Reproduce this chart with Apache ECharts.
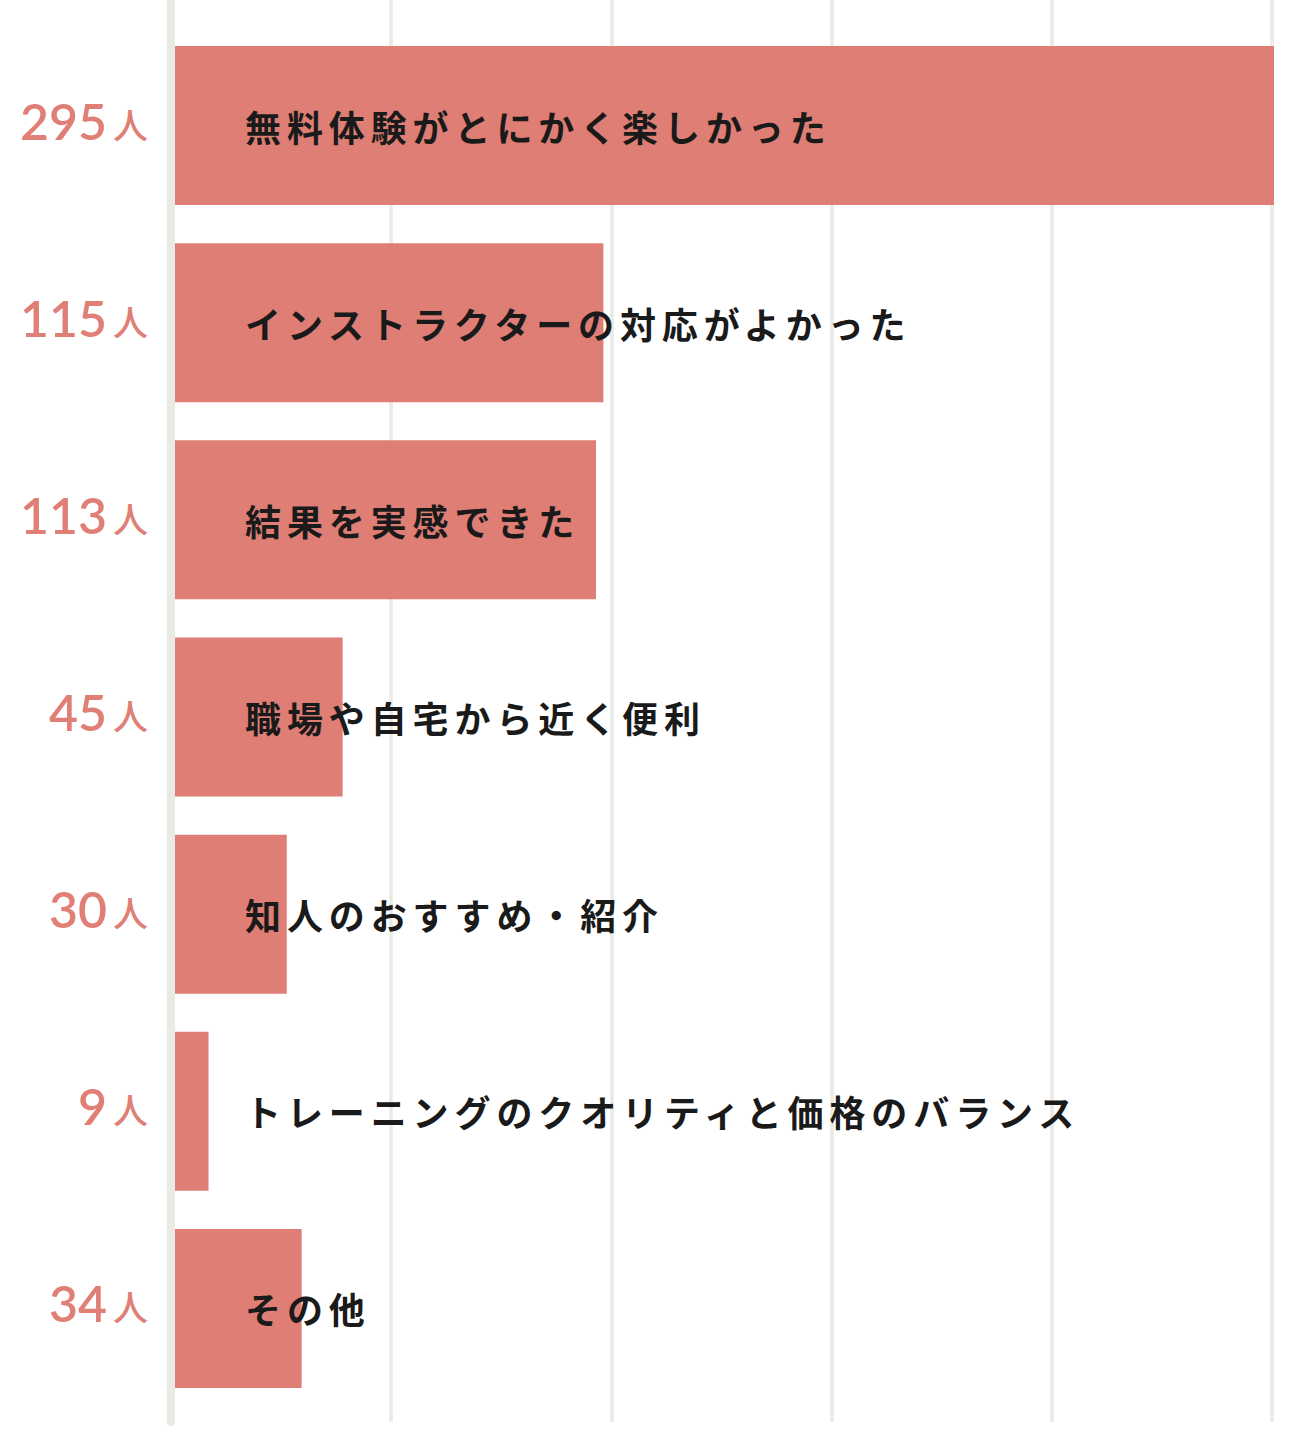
<!DOCTYPE html>
<html>
<head>
<meta charset="utf-8">
<script src="https://cdn.jsdelivr.net/npm/echarts@6/dist/echarts.min.js"></script>
<style>
html,body{margin:0;padding:0;background:#fff;}
#chart{width:1308px;height:1436px;}
#chart text[fill="#1a1a1a"]{letter-spacing:5.9px;}
</style>
</head>
<body>
<div id="chart"></div>
<script>
const categories = [
  '無料体験がとにかく楽しかった',
  'インストラクターの対応がよかった',
  '結果を実感できた',
  '職場や自宅から近く便利',
  '知人のおすすめ・紹介',
  'トレーニングのクオリティと価格のバランス',
  'その他'
];
const values = [295, 115, 113, 45, 30, 9, 34];
const unitLabel = '人';
const gridTicks = [0, 1, 2, 3, 4, 5];

const barColor = '#df7e75';
const lineColor = '#e9eae3';

const chart = echarts.init(document.getElementById('chart'), null, {renderer: 'svg'});
chart.setOption({
  animation: false,
  backgroundColor: '#fff',
  grid: [
    {left: 171, right: 36, top: 0, height: 1422},
    {left: 175, right: 34, top: 27, height: 1380}
  ],
  xAxis: [
    {
      gridIndex: 0, type: 'value', min: gridTicks[0], max: gridTicks[gridTicks.length - 1], interval: 1,
      axisLine: {show: false}, axisTick: {show: false}, axisLabel: {show: false},
      splitLine: {show: true, lineStyle: {color: lineColor, width: 3.5}}
    },
    {
      gridIndex: 1, type: 'value', min: 0, max: 295, show: false,
      splitLine: {show: false}
    }
  ],
  yAxis: [
    {
      gridIndex: 0, type: 'value', min: 0, max: 1,
      axisLine: {show: true, lineStyle: {color: lineColor, width: 8}},
      axisTick: {show: false}, axisLabel: {show: false}, splitLine: {show: false}
    },
    {
      gridIndex: 1, type: 'category', inverse: true, data: categories,
      axisLine: {show: false}, axisTick: {show: false}, splitLine: {show: false},
      axisLabel: {
        margin: 27,
        padding: [0, 0, 16, 0],
        formatter: function (v, i) { return '{n|' + values[i] + '}{u|' + unitLabel + '}'; },
        rich: {
          n: {fontFamily: 'Lato', fontWeight: 600, fontSize: 50, color: '#e07f76', padding: [0, 6, 0, 0], verticalAlign: 'bottom', lineHeight: 56},
          u: {fontFamily: 'Noto Sans CJK JP', fontWeight: 500, fontSize: 35, color: '#e07f76', verticalAlign: 'bottom', lineHeight: 46, padding: [0, 0, 5, 0]}
        }
      }
    }
  ],
  series: [{
    type: 'bar',
    xAxisIndex: 1,
    yAxisIndex: 1,
    data: values,
    barWidth: 159,
    itemStyle: {color: barColor},
    label: {
      show: true,
      position: [70, '50%'],
      align: 'left',
      verticalAlign: 'middle',
      formatter: '{b}',
      fontFamily: 'Noto Sans CJK JP',
      fontWeight: 'bold',
      fontSize: 36,
      color: '#1a1a1a'
    }
  }]
});
</script>
</body>
</html>
